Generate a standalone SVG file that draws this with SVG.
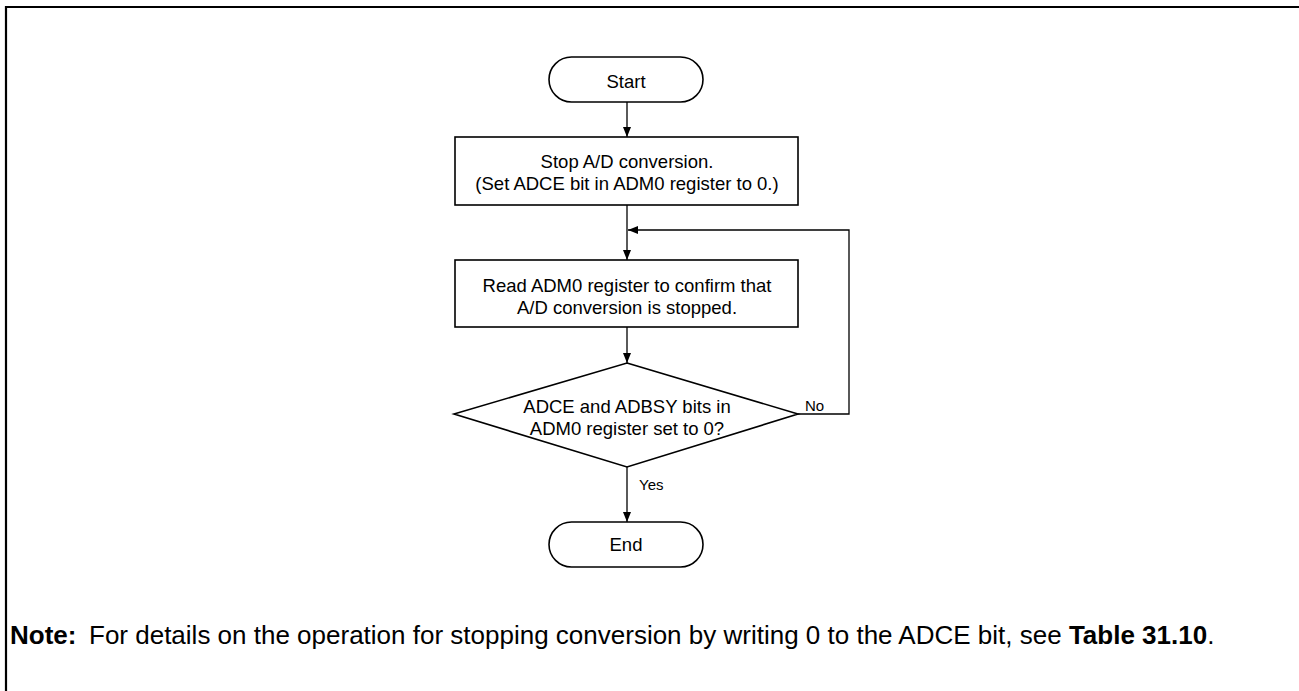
<svg xmlns="http://www.w3.org/2000/svg" width="1299" height="691" viewBox="0 0 1299 691">
<style>
.t{font-family:"Liberation Sans",Arial,sans-serif;font-size:18.5px;fill:#000;text-anchor:middle}
.s{font-family:"Liberation Sans",Arial,sans-serif;font-size:15px;fill:#000}
.n{font-family:"Liberation Sans",Arial,sans-serif;font-size:26px;fill:#000}
.shape{fill:#fff;stroke:#000;stroke-width:1.6}
.c{fill:none;stroke:#000;stroke-width:1.3}
</style>
<defs>
<marker id="ah" markerWidth="10" markerHeight="8" refX="10" refY="4" orient="auto" markerUnits="userSpaceOnUse">
<path d="M0,0 L10,4 L0,8 Z" fill="#000"/>
</marker>
</defs>
<rect width="1299" height="691" fill="#fff"/>
<path d="M6,691 V7 H1299" fill="none" stroke="#000" stroke-width="2.2"/>
<g id="connectors">
<line class="c" x1="627" y1="102" x2="627" y2="137" marker-end="url(#ah)"/>
<line class="c" x1="627" y1="205" x2="627" y2="260" marker-end="url(#ah)"/>
<line class="c" x1="627" y1="327" x2="627" y2="363" marker-end="url(#ah)"/>
<polyline class="c" points="798,414 849,414 849,230 628,230" marker-end="url(#ah)"/>
<line class="c" x1="627" y1="467" x2="627" y2="522" marker-end="url(#ah)"/>
<text class="s" x="805" y="411">No</text>
<text class="s" x="639" y="490">Yes</text>
</g>
<g id="start">
<rect class="shape" x="549" y="57" width="154" height="45" rx="22.5"/>
<text class="t" x="626" y="88">Start</text>
</g>
<g id="stop">
<rect class="shape" x="455" y="137" width="343" height="68"/>
<text class="t" x="627" y="168">Stop A/D conversion.</text>
<text class="t" x="627" y="190">(Set ADCE bit in ADM0 register to 0.)</text>
</g>
<g id="read">
<rect class="shape" x="455" y="260" width="343" height="67"/>
<text class="t" x="627" y="292">Read ADM0 register to confirm that</text>
<text class="t" x="627" y="314">A/D conversion is stopped.</text>
</g>
<g id="decision">
<polygon class="shape" points="627,363 798,414 627,467 454,414"/>
<text class="t" x="627" y="413">ADCE and ADBSY bits in</text>
<text class="t" x="627" y="435">ADM0 register set to 0?</text>
</g>
<g id="end">
<rect class="shape" x="549" y="522" width="154" height="45" rx="22.5"/>
<text class="t" x="626" y="551">End</text>
</g>
<g id="note">
<text class="n" x="10" y="644" font-weight="bold">Note:</text>
<text class="n" x="89" y="644">For details on the operation for stopping conversion by writing 0 to the ADCE bit, see <tspan font-weight="bold">Table 31.10</tspan>.</text>
</g>
</svg>
